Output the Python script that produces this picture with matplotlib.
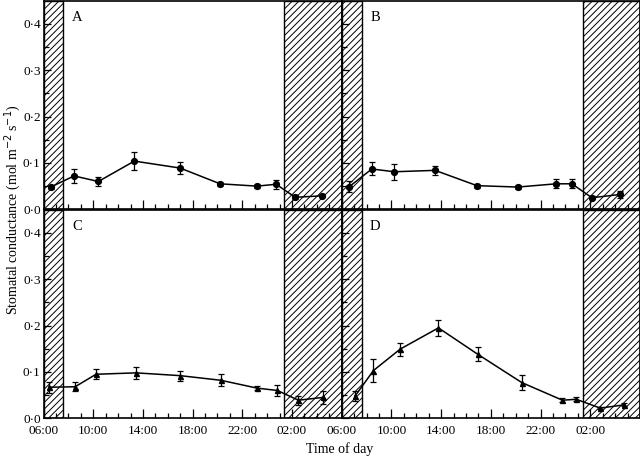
# -------------------------------
# 1. Import Libraries
# -------------------------------
import numpy as np
import matplotlib.pyplot as plt
from matplotlib.ticker import MultipleLocator, FixedLocator, FixedFormatter


# -------------------------------
# 2. Data (hours since midnight, 24+ = next day)
# -------------------------------
time_a = [6.58, 8.46, 10.41, 13.31, 16.99, 20.21, 23.17, 24.72, 26.25, 28.40]
gs_a = [0.048, 0.072, 0.060, 0.104, 0.089, 0.055, 0.050, 0.054, 0.026, 0.029]
err_a = [0.005, 0.016, 0.009, 0.019, 0.012, 0.004, 0.004, 0.010, 0.004, 0.003]

time_b = [6.61, 8.42, 10.21, 13.51, 16.88, 20.17, 23.25, 24.52, 26.13, 28.40]
gs_b = [0.049, 0.087, 0.081, 0.084, 0.051, 0.048, 0.055, 0.055, 0.025, 0.032]
err_b = [0.011, 0.014, 0.017, 0.009, 0.004, 0.004, 0.010, 0.010, 0.003, 0.008]

time_c = [6.44, 8.54, 10.23, 13.45, 16.99, 20.27, 23.20, 24.82, 26.51, 28.48]
gs_c = [0.067, 0.068, 0.095, 0.098, 0.092, 0.082, 0.065, 0.060, 0.039, 0.045]
err_c = [0.012, 0.010, 0.011, 0.013, 0.011, 0.013, 0.004, 0.011, 0.010, 0.014]

time_d = [7.07, 8.55, 10.69, 13.78, 16.95, 20.49, 23.76, 24.87, 26.80, 28.75]
gs_d = [0.048, 0.103, 0.149, 0.195, 0.138, 0.077, 0.039, 0.041, 0.022, 0.029]
err_d = [0.010, 0.024, 0.014, 0.017, 0.015, 0.016, 0.004, 0.004, 0.002, 0.003]

panel_labels = ["A", "B", "C", "D"]
dark_periods = [(6.0, 7.6), (25.38, 30.0)]
tick_hours = [6, 10, 14, 18, 22, 26]
tick_labels = ["06:00", "10:00", "14:00", "18:00", "22:00", "02:00"]
y_ticks = [0.0, 0.1, 0.2, 0.3, 0.4]
y_labels = ["0·0", "0·1", "0·2", "0·3", "0·4"]


# -------------------------------
# 3. Figure Setup
# -------------------------------
plt.rcParams['font.family'] = ['Liberation Serif', 'DejaVu Serif']
plt.rcParams['hatch.linewidth'] = 0.7

fig = plt.figure(figsize=(6.4, 4.58), dpi=100)

lefts = [0.068, 0.534]
bottoms = [0.543, 0.0867]
w, h = 0.466, 0.4555

series = [
    (time_a, gs_a, err_a, 'o', 4.2),
    (time_b, gs_b, err_b, 'o', 4.2),
    (time_c, gs_c, err_c, '^', 3.6),
    (time_d, gs_d, err_d, '^', 3.6),
]


# -------------------------------
# 4. Panels
# -------------------------------
for i, (t, g, e, mk, ms) in enumerate(series):
    row, col = divmod(i, 2)
    ax = fig.add_axes([lefts[col], bottoms[row], w, h])

    for start, end in dark_periods:
        ax.axvspan(start, end, facecolor='white', edgecolor='black',
                   hatch='/////', linewidth=1.0, zorder=1)

    ax.errorbar(t, g, yerr=e, color='black', marker=mk, markersize=ms,
                linewidth=1.1, elinewidth=0.9, capsize=2.2, capthick=0.9,
                zorder=3)

    ax.set_xlim(6, 30)
    ax.set_ylim(0, 0.45)

    ax.xaxis.set_major_locator(FixedLocator(tick_hours))
    ax.xaxis.set_minor_locator(MultipleLocator(1))
    ax.yaxis.set_major_locator(FixedLocator(y_ticks))
    ax.yaxis.set_minor_locator(FixedLocator([0.05, 0.15, 0.25, 0.35]))
    ax.tick_params(axis='both', which='both', direction='in', top=False,
                   right=False, labelsize=9.5, width=0.9)
    ax.tick_params(axis='x', which='major', length=6.5, pad=5)
    ax.tick_params(axis='x', which='minor', length=3.5)
    ax.tick_params(axis='y', which='major', length=5, pad=2)
    ax.tick_params(axis='y', which='minor', length=3.5)

    if row == 1:
        ax.xaxis.set_major_formatter(FixedFormatter(tick_labels))
    else:
        ax.set_xticklabels([])

    if col == 0:
        ax.yaxis.set_major_formatter(FixedFormatter(y_labels))
    else:
        ax.set_yticklabels([])

    for sp in ax.spines.values():
        sp.set_linewidth(1.2)
        sp.set_zorder(4)

    ax.text(0.112, 0.918, panel_labels[i], transform=ax.transAxes,
            fontsize=10.5, ha='center', va='center')


# -------------------------------
# 5. Axis Titles
# -------------------------------
fig.text(0.531, 0.019, "Time of day", ha='center', va='center', fontsize=10)
fig.text(0.02, 0.543, "Stomatal conductance (mol m$^{-2}$ s$^{-1}$)",
         rotation=90, ha='center', va='center', fontsize=10)

fig.savefig("out.png", dpi=100)
